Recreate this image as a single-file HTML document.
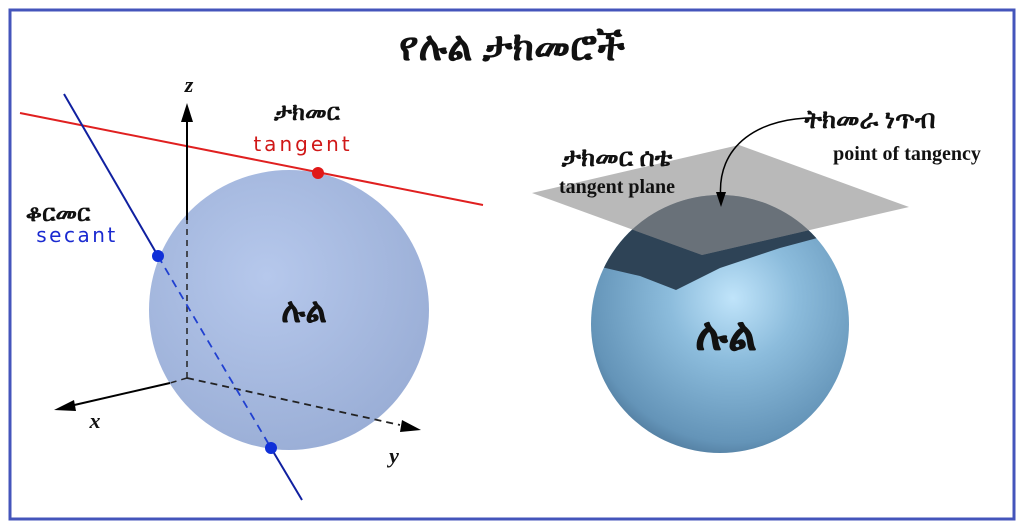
<!DOCTYPE html>
<html><head><meta charset="utf-8"><style>
body{margin:0;background:#fff}
svg{display:block}
</style></head><body>
<svg width="1024" height="528" viewBox="0 0 1024 528" xmlns="http://www.w3.org/2000/svg">
<defs>
<radialGradient id="g1" cx="0.42" cy="0.38" r="0.65">
<stop offset="0" stop-color="#b6c8ec"/><stop offset="1" stop-color="#9aaed6"/>
</radialGradient>
<radialGradient id="g2" cx="0.55" cy="0.4" r="0.7">
<stop offset="0" stop-color="#c0e4fa"/><stop offset="0.35" stop-color="#8cbcdc"/><stop offset="0.8" stop-color="#6494b8"/><stop offset="1" stop-color="#3e6384"/>
</radialGradient>
<clipPath id="cs"><circle cx="720" cy="324" r="129"/></clipPath>
</defs>
<rect x="10" y="10" width="1004" height="509" fill="none" stroke="#4455bb" stroke-width="3"/>
<text x="512" y="60" text-anchor="middle" font-family="'Liberation Serif',serif" font-weight="bold" font-size="40" fill="#111">የሉል ታክመሮች</text>

<circle cx="289" cy="310" r="140" fill="url(#g1)"/>
<line x1="20" y1="113" x2="483" y2="205" stroke="#e02020" stroke-width="2"/>
<circle cx="318" cy="173" r="6" fill="#e01818"/>
<line x1="187" y1="378" x2="187" y2="220" stroke="#222" stroke-width="1.5" stroke-dasharray="6,5"/>
<line x1="187" y1="220" x2="187" y2="118" stroke="#000" stroke-width="2"/>
<polygon points="187,103 181,122 193,122" fill="#000"/>
<line x1="187" y1="378" x2="170" y2="383" stroke="#222" stroke-width="1.5" stroke-dasharray="6,5"/>
<line x1="170" y1="383" x2="70" y2="406" stroke="#000" stroke-width="2"/>
<polygon points="54,410 74,400 76,411" fill="#000"/>
<line x1="187" y1="378" x2="400" y2="425" stroke="#222" stroke-width="1.8" stroke-dasharray="7,5"/>
<polygon points="421,430 402,420 400,432" fill="#000"/>
<line x1="64" y1="94" x2="158" y2="256" stroke="#1020a0" stroke-width="2"/>
<line x1="158" y1="256" x2="271" y2="448" stroke="#2040d0" stroke-width="1.8" stroke-dasharray="8,6"/>
<line x1="271" y1="448" x2="302" y2="500" stroke="#1020a0" stroke-width="2"/>
<circle cx="158" cy="256" r="6" fill="#1030d8"/>
<circle cx="271" cy="448" r="6" fill="#1030d8"/>
<g font-family="'Liberation Serif',serif" font-style="italic" font-weight="bold" font-size="22" fill="#111">
<text x="189" y="92" text-anchor="middle">z</text>
<text x="95" y="428" text-anchor="middle">x</text>
<text x="394" y="463" text-anchor="middle">y</text>
</g>
<g font-family="'Liberation Sans','DejaVu Sans',sans-serif">
<text x="307" y="120" text-anchor="middle" font-size="24" font-weight="bold" fill="#111">ታክመር</text>
<text x="303" y="151" text-anchor="middle" font-size="20" fill="#d01818" font-family="'DejaVu Sans',sans-serif" letter-spacing="3">tangent</text>
<text x="58" y="221" text-anchor="middle" font-size="24" font-weight="bold" fill="#111">ቆርመር</text>
<text x="77" y="242" text-anchor="middle" font-size="20" fill="#1a2ad0" font-family="'DejaVu Sans',sans-serif" letter-spacing="2.5">secant</text>
<text x="304" y="322" text-anchor="middle" font-size="34" font-weight="bold" fill="#111">ሉል</text>
</g>

<circle cx="720" cy="324" r="129" fill="url(#g2)"/>
<g clip-path="url(#cs)">
<polygon points="580,180 900,180 900,225 840,232 780,248 720,268 676,290 640,276 580,262" fill="#2e4356"/>
</g>
<polygon points="532,193 739,145 909,207 702,255" fill="#a8a8a8" fill-opacity="0.8"/>
<g clip-path="url(#cs)">
<polygon points="532,193 739,145 909,207 702,255" fill="#4a5560" fill-opacity="0.55"/>
</g>
<path d="M820,118 C760,116 715,145 721,200" fill="none" stroke="#000" stroke-width="1.5"/>
<polygon points="721,207 716,192 726,192" fill="#000"/>
<g font-family="'Liberation Serif',serif" font-weight="bold" fill="#111">
<text x="870" y="128" text-anchor="middle" font-size="26">ትክመራ ነጥብ</text>
<text x="907" y="160" text-anchor="middle" font-size="20">point of tangency</text>
<text x="617" y="166" text-anchor="middle" font-size="26">ታክመር ሰቴ</text>
<text x="617" y="193" text-anchor="middle" font-size="20">tangent plane</text>
<text x="726" y="350" text-anchor="middle" font-size="46">ሉል</text>
</g>
</svg>
</body></html>
